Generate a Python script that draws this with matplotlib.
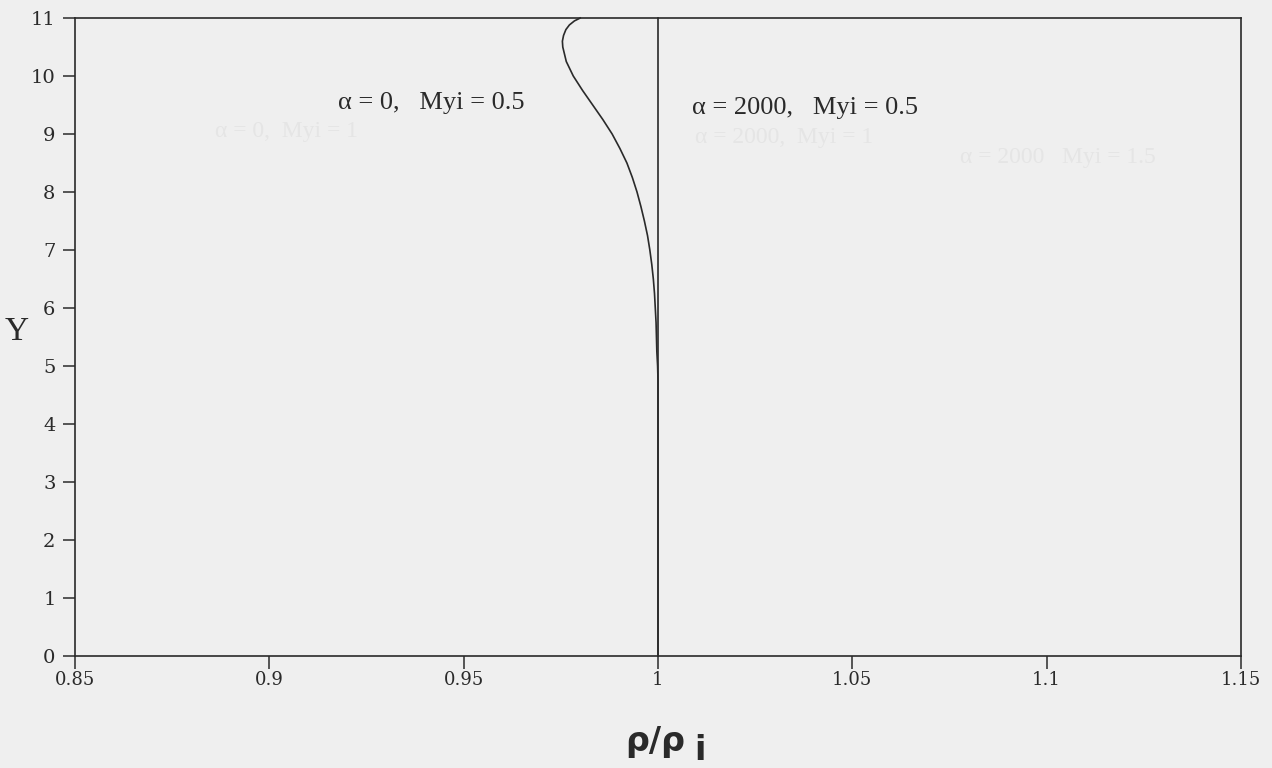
import matplotlib
matplotlib.use("Agg")
import matplotlib.pyplot as plt
import numpy as np

# ---- data ----
# alpha = 0, Myi = 0.5 : density ratio vs Y
y_alpha0 = [0.0, 1.0, 2.0, 3.0, 4.0, 4.5, 4.75, 5.0, 5.25, 5.5, 5.75, 6.0, 6.25, 6.5, 6.75,
            7.0, 7.25, 7.5, 7.75, 8.0, 8.25, 8.5, 8.75, 9.0, 9.25, 9.5, 9.75, 10.0, 10.25,
            10.5, 10.6, 10.7, 10.8, 10.88, 10.95, 11.0]
rho_alpha0 = [1.0, 1.0, 1.0, 1.0, 1.0, 1.0, 1.0, 0.9999, 0.9997, 0.9996, 0.9995, 0.9993, 0.9991,
              0.9988, 0.9984, 0.9979, 0.9973, 0.9965, 0.9956, 0.9946, 0.9934, 0.9920, 0.9902,
              0.9882, 0.9858, 0.9832, 0.9806, 0.9782, 0.9764, 0.9755, 0.9754, 0.9757, 0.9763,
              0.9772, 0.9785, 0.9800]
# alpha = 2000, Myi = 0.5 : uniform density
y_alpha2000 = [0.0, 11.0]
rho_alpha2000 = [1.0, 1.0]

x_ticks = [0.85, 0.9, 0.95, 1.0, 1.05, 1.1, 1.15]
x_ticklabels = ["0.85", "0.9", "0.95", "1", "1.05", "1.1", "1.15"]
y_ticks = list(range(0, 12))
y_ticklabels = [str(v) for v in y_ticks]

label_a0 = "α = 0,   Myi = 0.5"
label_a2000 = "α = 2000,   Myi = 0.5"
ghost_labels = ["α = 0,  Myi = 1", "α = 2000,  Myi = 1", "α = 2000   Myi = 1.5"]

BG = "#efefef"
INK = "#2a2a2a"

fig = plt.figure(figsize=(12.72, 7.68), dpi=100, facecolor=BG)
ax = fig.add_axes([75/1272, 1 - 656/768, (1241-75)/1272, (656-18)/768])
ax.set_facecolor(BG)

ax.plot(rho_alpha0, y_alpha0, color=INK, lw=1.2, clip_on=False, solid_joinstyle="round")
ax.plot(rho_alpha2000, y_alpha2000, color=INK, lw=1.2, clip_on=False)

ax.set_xlim(0.85, 1.15)
ax.set_ylim(0, 11)

for s in ax.spines.values():
    s.set_color(INK)
    s.set_linewidth(1.2)

serif = ["Liberation Serif", "DejaVu Serif"]
tickfont = ["DejaVu Serif"]
ax.set_xticks(x_ticks)
ax.set_xticklabels(x_ticklabels, fontfamily=tickfont, fontsize=13, color=INK)
ax.set_yticks(y_ticks)
ax.set_yticklabels(y_ticklabels, fontfamily=tickfont, fontsize=14, color=INK)
ax.tick_params(axis="x", direction="out", length=9, width=1.1, pad=2, colors=INK)
ax.tick_params(axis="y", direction="out", length=9, width=1.1, pad=5, colors=INK)

# ghost (bleed-through) texts, very faint
ghost_col = "#e5e5e5"
fig.text(215/1272, 1 - 132/768, ghost_labels[0], fontfamily=serif, fontsize=17, color=ghost_col, va="center")
fig.text(695/1272, 1 - 138/768, ghost_labels[1], fontfamily=serif, fontsize=17, color=ghost_col, va="center")
fig.text(960/1272, 1 - 157/768, ghost_labels[2], fontfamily=serif, fontsize=17, color=ghost_col, va="center")

# curve annotations
ax.text(0.9177, 9.53, label_a0, fontfamily=serif, fontsize=19, color=INK, va="center", ha="left")
ax.text(1.0087, 9.45, label_a2000, fontfamily=serif, fontsize=19, color=INK, va="center", ha="left")

# axis labels
fig.text(17/1272, 1 - 332/768, "Y", fontfamily=serif, fontsize=24, color=INK, va="center", ha="center")
fig.text(655/1272, 1 - 741/768, "ρ/ρ", fontfamily=["DejaVu Sans"], fontsize=24, fontweight="bold", color=INK, va="center", ha="center")
fig.text(700/1272, 1 - 767/768, "i", fontfamily=["DejaVu Sans"], fontsize=24, fontweight="bold", color=INK, va="bottom", ha="center")

fig.savefig("out.png", dpi=100, facecolor=BG)
